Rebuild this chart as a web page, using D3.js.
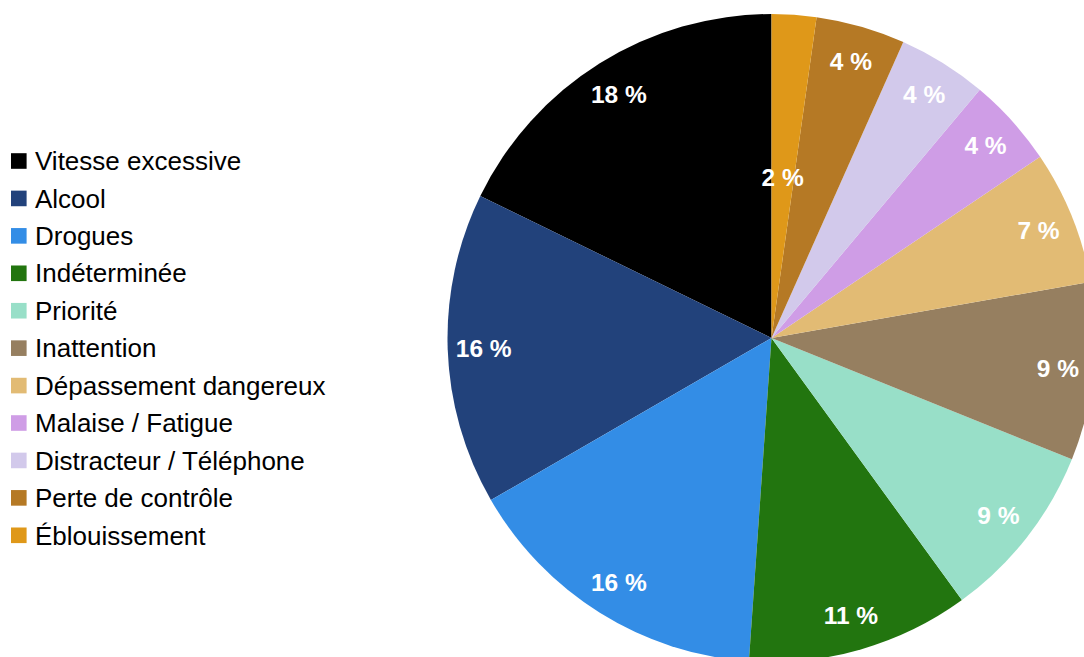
<!DOCTYPE html>
<html><head><meta charset="utf-8">
<script src="https://cdn.jsdelivr.net/npm/d3@7"></script>
<style>html,body{margin:0;padding:0;background:#fff;overflow:hidden}svg{display:block}</style>
</head><body>
<svg id="chart" width="1084" height="657"></svg>
<script>
const categories = ["Vitesse excessive","Alcool","Drogues","Indéterminée","Priorité","Inattention","Dépassement dangereux","Malaise / Fatigue","Distracteur / Téléphone","Perte de contrôle","Éblouissement"];
const values = [8,7,7,5,4,4,3,2,2,2,1];
const colors = ["#000000","#22427b","#338de6","#22750f","#98dfc8","#967f60","#e2bb74","#cf9de6","#d2c9eb","#b57925","#df9819"];

const svg = d3.select("#chart");
const cx = 771.5, cy = 338, R = 324;
const total = d3.sum(values);
const data = categories.map((c,i)=>({name:c, value:values[i], color:colors[i]}));

const pie = d3.pie().value(d=>d.value).sort(null).startAngle(0).endAngle(-2*Math.PI);
const arcs = pie(data);
const arc = d3.arc().innerRadius(0).outerRadius(R);
const g = svg.append("g").attr("transform",`translate(${cx},${cy})`);
g.selectAll("path").data(arcs).join("path").attr("d",arc).attr("fill",d=>d.data.color);

const fmt = v => Math.round(v/total*100) + " %";
const labelSize = 24.5;
const labels = g.selectAll("text").data(arcs).join("text")
  .attr("text-anchor","middle").attr("dy","0.36em")
  .attr("font-family","'Liberation Sans', Arial, sans-serif")
  .attr("font-weight","bold").attr("font-size",labelSize).attr("fill","#fff")
  .text(d=>fmt(d.data.value));
labels.attr("transform", function(d){
    const w = this.getComputedTextLength();
    const span = Math.abs(d.endAngle-d.startAngle);
    const rl = span*288 < w + 4 ? 161 : 288;
    const c = d3.arc().innerRadius(rl).outerRadius(rl).centroid(d);
    return `translate(${c[0]},${c[1]})`;
  });

const leg = svg.append("g");
const rowY = d3.scalePoint().domain(categories).range([161, 535.3]);
const rows = leg.selectAll("g").data(data).join("g").attr("transform",d=>`translate(0,${rowY(d.name)})`);
rows.append("rect").attr("x",11).attr("y",-7.8).attr("width",15.6).attr("height",15.6).attr("fill",d=>d.color);
rows.append("text").attr("x",35).attr("y",9.2)
  .attr("font-family","'Liberation Sans', Arial, sans-serif").attr("font-size",26).attr("fill","#000")
  .text(d=>d.name);
</script>
</body></html>
